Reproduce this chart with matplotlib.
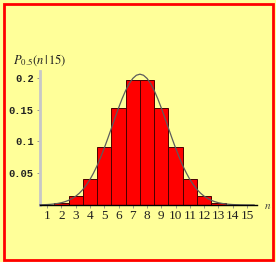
import matplotlib.pyplot as plt
from matplotlib.patches import Rectangle

# Binomial probabilities P_0.5(n | 15) shown as bars
n_values = [1, 2, 3, 4, 5, 6, 7, 8, 9, 10, 11, 12, 13, 14, 15]
probs = [0.00046, 0.0032, 0.0139, 0.0417, 0.0916, 0.1527, 0.1964,
         0.1964, 0.1527, 0.0916, 0.0417, 0.0139, 0.0032, 0.00046, 0.00003]

# smooth bell curve drawn over the bars
curve_x = [0.5, 0.75, 1.0, 1.25, 1.5, 1.75, 2.0, 2.25, 2.5, 2.75, 3.0, 3.25,
           3.5, 3.75, 4.0, 4.25, 4.5, 4.75, 5.0, 5.25, 5.5, 5.75, 6.0, 6.25,
           6.5, 6.75, 7.0, 7.25, 7.5, 7.75, 8.0, 8.25, 8.5, 8.75, 9.0, 9.25,
           9.5, 9.75, 10.0, 10.25, 10.5, 10.75, 11.0, 11.25, 11.5, 11.75,
           12.0, 12.25, 12.5, 12.75, 13.0, 13.25, 13.5, 13.75, 14.0, 14.25,
           14.5, 14.75, 15.0, 15.25, 15.5]
curve_y = [0.0003, 0.0005, 0.0007, 0.0011, 0.0017, 0.0025, 0.0036, 0.0052,
           0.0073, 0.0102, 0.0138, 0.0185, 0.0244, 0.0316, 0.0402, 0.0504,
           0.0620, 0.0752, 0.0895, 0.1049, 0.1209, 0.1369, 0.1526, 0.1673,
           0.1803, 0.1911, 0.1993, 0.2043, 0.2060, 0.2043, 0.1993, 0.1911,
           0.1803, 0.1673, 0.1526, 0.1369, 0.1209, 0.1049, 0.0895, 0.0752,
           0.0620, 0.0504, 0.0402, 0.0316, 0.0244, 0.0185, 0.0138, 0.0102,
           0.0073, 0.0052, 0.0036, 0.0025, 0.0017, 0.0011, 0.0007, 0.0005,
           0.0003, 0.0002, 0.0001, 0.0001, 0.00005]

y_ticks = [0.05, 0.1, 0.15, 0.2]
y_tick_labels = ["0.05", "0.1", "0.15", "0.2"]

plt.rcParams["mathtext.fontset"] = "stix"

bg = "#FFFF99"
W, H = 276, 262
fig = plt.figure(figsize=(W / 100, H / 100), dpi=100, facecolor=bg)

# red frame around the whole picture
fig.patches.append(Rectangle((3.5 / W, 2.5 / H), 269.5 / W, 256 / H,
                             transform=fig.transFigure, fill=False,
                             edgecolor="#FF0000", linewidth=2))

ax = fig.add_axes([40 / W, 57 / H, 217 / W, 134 / H], facecolor=bg)

ax.bar(n_values, probs, width=1.0, color="#FF0000",
       edgecolor="#4a0000", linewidth=0.7, zorder=2)
ax.plot(curve_x, curve_y, color="#5c5c5c", linewidth=0.9, zorder=3,
        clip_on=False)

ax.set_xlim(0.5, 15.7)
ax.set_ylim(0, 0.211)

for side in ["top", "right"]:
    ax.spines[side].set_visible(False)
ax.spines["bottom"].set_color("black")
ax.spines["bottom"].set_linewidth(1.0)
ax.spines["bottom"].set_zorder(4)
ax.spines["left"].set_color("#c8c8c8")
ax.spines["left"].set_linewidth(2.0)

ax.set_xticks(n_values)
ax.set_xticklabels([str(n) for n in n_values], family="Liberation Serif",
                   fontsize=9.5, color="#222222")
ax.tick_params(axis="x", length=2.5, width=0.6, color="#888888", pad=1)

ax.set_yticks(y_ticks)
ax.set_yticklabels(y_tick_labels, family="Liberation Mono", fontsize=7.5,
                   fontweight="bold", color="#222222")
ax.tick_params(axis="y", length=2.5, width=0.6, color="#888888", pad=2)

fig.text(13 / W, 1 - 60 / H, r"$P_{0.5}(n\,|\,15)$", fontsize=9,
         ha="left", va="center", color="#222222")
fig.text(268 / W, 1 - 206 / H, r"$n$", fontsize=8, ha="center",
         va="center", color="#444444")

fig.savefig("out.png", dpi=100, facecolor=bg)
